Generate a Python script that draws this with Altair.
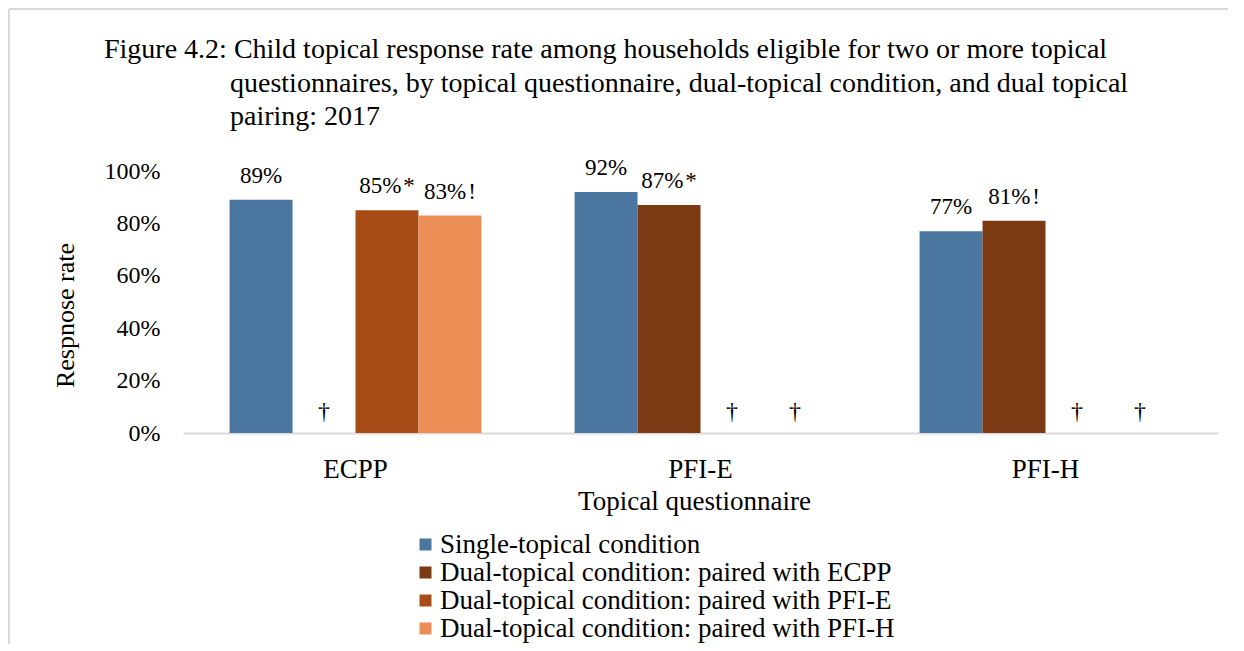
import altair as alt
import pandas as pd

categories = ["ECPP", "PFI-E", "PFI-H"]
series = [
    "Single-topical condition",
    "Dual-topical condition: paired with ECPP",
    "Dual-topical condition: paired with PFI-E",
    "Dual-topical condition: paired with PFI-H",
]
colors = ["#4A76A0", "#7B3914", "#A84C17", "#EB8D55"]

# values per category, in series order (None = not reported, shown as dagger)
ecpp_vals = [0.89, None, 0.85, 0.83]
pfie_vals = [0.92, 0.87, None, None]
pfih_vals = [0.77, 0.81, None, None]
ecpp_notes = ["", "", "*", "!"]
pfie_notes = ["", "*", "", ""]
pfih_notes = ["", "!", "", ""]

title_lines = [
    "Figure 4.2: Child topical response rate among households eligible for two or more topical",
    "questionnaires, by topical questionnaire, dual-topical condition, and dual topical",
    "pairing: 2017",
]

rows = []
for cat, vals, notes in [("ECPP", ecpp_vals, ecpp_notes), ("PFI-E", pfie_vals, pfie_notes), ("PFI-H", pfih_vals, pfih_notes)]:
    for s, v, n in zip(series, vals, notes):
        if v is None:
            rows.append({"cat": cat, "series": s, "value": None, "label": "\u2020", "zero": 0.0, "missing": True})
        else:
            lab = f"{round(v*100)}%" + (("\u200a" + n) if n else "")
            rows.append({"cat": cat, "series": s, "value": v, "label": lab, "zero": 0.0, "missing": False})
df = pd.DataFrame(rows)
bars_df = df[~df["missing"]].copy()
miss_df = df[df["missing"]].copy()

FONT = "Liberation Serif"

x_enc = alt.X(
    "cat:N",
    sort=categories,
    scale=alt.Scale(paddingInner=0.27, paddingOuter=0.135),
    axis=alt.Axis(
        title="Topical questionnaire",
        labelAngle=0,
        ticks=False,
        domainColor="#d9d9d9",
        domainWidth=2,
        labelPadding=23,
        labelFontSize=27,
        labelFont=FONT,
        labelColor="black",
        titleFont=FONT,
        titleFontSize=27,
        titleFontWeight="normal",
        titleColor="black",
        titlePadding=6,
        titleX=511,
    ),
)
xo_enc = alt.XOffset("series:N", sort=series, scale=alt.Scale(domain=series, paddingInner=0, paddingOuter=0))

y_axis = alt.Axis(
    title="Respnose rate",
    values=[0, 0.2, 0.4, 0.6, 0.8, 1.0],
    format=".0%",
    grid=False,
    domain=False,
    ticks=False,
    labelPadding=23,
    labelFontSize=24,
    labelFont=FONT,
    labelColor="black",
    titleFont=FONT,
    titleFontSize=26,
    titleFontWeight="normal",
    titleColor="black",
    titleX=-118,
    titleY=144,
    titleAngle=270,
    titleAlign="center",
    titleBaseline="middle",
)

bars = alt.Chart(bars_df).mark_bar().encode(
    x=x_enc,
    xOffset=xo_enc,
    y=alt.Y("value:Q", scale=alt.Scale(domain=[0, 1]), axis=y_axis),
    color=alt.Color(
        "series:N",
        sort=series,
        scale=alt.Scale(domain=series, range=colors),
        legend=alt.Legend(
            title=None,
            orient="none",
            legendX=229,
            legendY=360,
            direction="vertical",
            symbolType="square",
            symbolSize=144,
            symbolStrokeWidth=0,
            labelFont=FONT,
            labelFontSize=27,
            labelColor="black",
            labelOffset=1,
            rowPadding=0,
            padding=0,
            labelLimit=700,
        ),
    ),
)

labels = alt.Chart(bars_df).mark_text(font=FONT, fontSize=23, color="black", baseline="alphabetic", dy=-17).encode(
    x=alt.X("cat:N", sort=categories),
    xOffset=alt.XOffset("series:N", sort=series),
    y=alt.Y("value:Q"),
    text="label:N",
)

daggers = alt.Chart(miss_df).mark_text(font=FONT, fontSize=24, color="#000000", baseline="middle", dy=-21).encode(
    x=alt.X("cat:N", sort=categories),
    xOffset=alt.XOffset("series:N", sort=series),
    y=alt.Y("zero:Q"),
    text="label:N",
)

one = pd.DataFrame({"k": [0]})
frame_top = alt.Chart(one).mark_rule(color="#d9d9d9", strokeWidth=2).encode(
    x=alt.value(-174), x2=alt.value(1045), y=alt.value(-162)
)
frame_left = alt.Chart(one).mark_rule(color="#d9d9d9", strokeWidth=2).encode(
    x=alt.value(-174), y=alt.value(-162), y2=alt.value(480)
)

def title_line(txt, xpos, ypos):
    return alt.Chart(one).mark_text(
        text=txt,
        align="left",
        baseline="middle",
        font=FONT,
        fontSize=28,
        color="black",
    ).encode(x=alt.value(xpos), y=alt.value(ypos))

t1 = title_line(title_lines[0], -79, -121)
t2 = title_line(title_lines[1], 47, -87)
t3 = title_line(title_lines[2], 47, -54)

chart = (
    alt.layer(frame_top, frame_left, t1, t2, t3, bars, labels, daggers)
    .properties(
        width=1035,
        height=262,
        autosize=alt.AutoSizeParams(type="none"),
        padding={"left": 175, "top": 163, "right": 10, "bottom": 211},
    )
    .configure_view(stroke=None)
)

chart.save("out.html", embed_options={"renderer": "svg", "actions": False})
